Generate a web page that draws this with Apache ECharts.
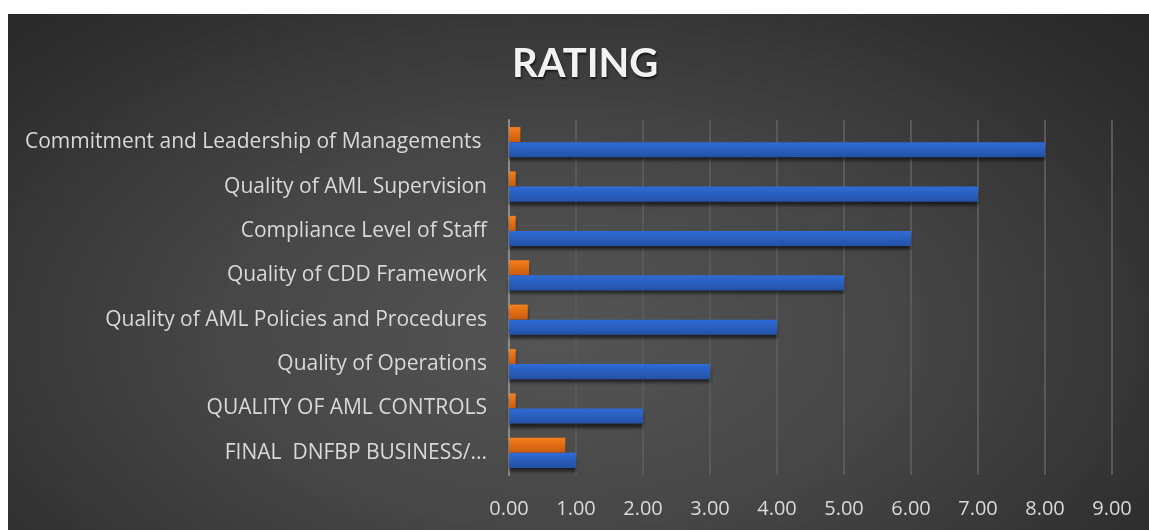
<!DOCTYPE html>
<html>
<head>
<meta charset="utf-8">
<script src="https://cdn.jsdelivr.net/npm/echarts@6/dist/echarts.min.js"></script>
<style>
  html, body { margin: 0; padding: 0; background: #fff; }
  #main {
    position: absolute; left: 8px; top: 14px; width: 1141px; height: 516px;
    background: radial-gradient(ellipse 75% 95% at 48% 62%, #555555 0%, #464646 40%, #2e2e2e 80%, #242424 100%);
  }
</style>
</head>
<body>
<div id="main"></div>
<script>
// categories, bottom to top as ECharts draws them
var categories = [
    'FINAL  DNFBP BUSINESS/...',
    'QUALITY OF AML CONTROLS',
    'Quality of Operations',
    'Quality of AML Policies and Procedures',
    'Quality of CDD Framework',
    'Compliance Level of Staff',
    'Quality of AML Supervision',
    'Commitment and Leadership of Managements '
];
var rankValues = [1, 2, 3, 4, 5, 6, 7, 8];
var scoreValues = [0.84, 0.1, 0.1, 0.28, 0.3, 0.1, 0.1, 0.17];
var tickLabels = ['0.00', '1.00', '2.00', '3.00', '4.00', '5.00', '6.00', '7.00', '8.00', '9.00'];

var font = '"Open Sans", Lato, sans-serif';

function grad(top, bottom) {
    return new echarts.graphic.LinearGradient(0, 0, 0, 1, [
        { offset: 0, color: top },
        { offset: 1, color: bottom }
    ]);
}

var myChart = echarts.init(document.getElementById('main'));
myChart.setOption({
    animation: false,
    title: {
        text: 'RATING',
        left: 499,
        top: 25,
        textStyle: {
            color: '#f2f2f2',
            fontFamily: 'Lato, sans-serif',
            fontSize: 40,
            fontWeight: 'bold',
            textShadowColor: 'rgba(0,0,0,0.6)',
            textShadowBlur: 2,
            textShadowOffsetX: 1,
            textShadowOffsetY: 2
        }
    },
    grid: { left: 501, right: 37, top: 106, bottom: 55, containLabel: false },
    xAxis: {
        type: 'value',
        min: 0,
        max: 9,
        interval: 1,
        axisLine: { show: false },
        axisTick: { show: false },
        axisLabel: {
            color: '#d9d9d9',
            fontFamily: font,
            fontSize: 20,
            margin: 24,
            formatter: function (v) { return tickLabels[Math.round(v)]; }
        },
        splitLine: { lineStyle: { color: '#595959', width: 2 } }
    },
    yAxis: {
        type: 'category',
        data: categories,
        axisLine: { show: true, lineStyle: { color: '#8c8c8c', width: 2 } },
        axisTick: { show: false },
        axisLabel: {
            color: '#d9d9d9',
            fontFamily: font,
            fontSize: 21,
            margin: 22,
            padding: [4, 0, 0, 0]
        }
    },
    series: [{
        name: 'Score',
        type: 'bar',
        data: scoreValues,
        barGap: '0%',
        barCategoryGap: '32%',
        itemStyle: {
            color: grad('#f7801c', '#c85a0e'),
            shadowColor: 'rgba(0,0,0,0.55)',
            shadowBlur: 3,
            shadowOffsetY: 4
        }
    }, {
        name: 'Rank',
        type: 'bar',
        data: rankValues,
        barGap: '0%',
        barCategoryGap: '32%',
        itemStyle: {
            color: grad('#2f6cd6', '#2451a6'),
            shadowColor: 'rgba(0,0,0,0.55)',
            shadowBlur: 3,
            shadowOffsetY: 4
        }
    }]
});
</script>
</body>
</html>
